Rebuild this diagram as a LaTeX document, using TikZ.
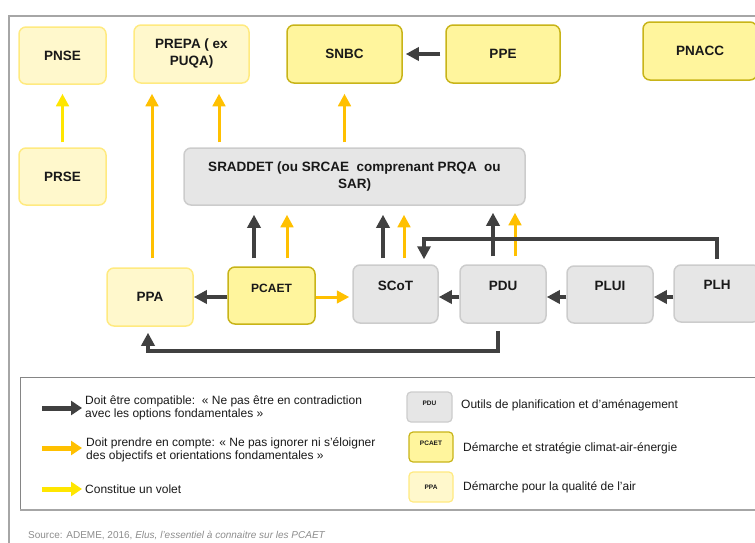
\documentclass[tikz,border=0pt]{standalone}
\usepackage{fontspec}
\setmainfont{Liberation Sans}
\usetikzlibrary{arrows.meta,calc}
\definecolor{lyfill}{HTML}{FFF8CC}
\definecolor{lyedge}{HTML}{FFEA80}
\definecolor{myfill}{HTML}{FFF59D}
\definecolor{myedge}{HTML}{C8B418}
\definecolor{gfill}{HTML}{E6E6E6}
\definecolor{gedge}{HTML}{CCCCCC}
\definecolor{darkc}{HTML}{404040}
\definecolor{orangec}{HTML}{FFC000}
\definecolor{yellowc}{HTML}{FFE600}
\definecolor{framec}{HTML}{A6A6A6}
\definecolor{srcc}{HTML}{8C8C8C}
\begin{document}
\begin{tikzpicture}[x=1pt,y=-1pt,
  boxbase/.style={rounded corners=7pt, line width=1.5pt, inner sep=2pt, align=center,
    font=\fontsize{13.5}{17}\selectfont\bfseries, text=black!90},
  lbox/.style={boxbase, draw=lyedge, fill=lyfill},
  mbox/.style={boxbase, draw=myedge, fill=myfill},
  gbox/.style={boxbase, draw=gedge, fill=gfill},
  sz/.style 2 args={minimum width=#1pt, minimum height=#2pt},
  toplbl/.style={font=\fontsize{13.5}{17}\selectfont\bfseries, text=black!90, inner sep=0pt},
  darr/.style={draw=darkc, line width=4pt, -{Triangle[length=13pt,width=13pt]}},
  oarr/.style={draw=orangec, line width=3pt, -{Triangle[length=12.5pt,width=12.5pt]}},
  yarr/.style={draw=yellowc, line width=3pt, -{Triangle[length=12.5pt,width=12.5pt]}},
  legarr/.style={line width=5pt, -{Triangle[length=11pt,width=14pt]}},
  legt/.style={font=\fontsize{12}{12.8}\selectfont, align=left, inner sep=0pt, text=black!90},
  legbox/.style={rounded corners=4pt, line width=1.2pt, minimum width=44pt, minimum height=30pt, inner sep=0pt},
  tiny/.style={font=\fontsize{6.5}{7}\selectfont\bfseries, inner sep=0pt, text=black!90}
]
\useasboundingbox (0,0) rectangle (755,542);

% outer frame
\draw[framec, line width=1.5pt] (9,545) -- (9,16) -- (760,16);

% top row
\node[lbox, sz={87}{57}] (pnse) at (62.5,55.5) {PNSE};
\node[lbox, sz={115}{58}] (prepa) at (191.5,54) {PREPA ( ex\\PUQA)};
\node[mbox, sz={115}{58}] (snbc) at (344.5,54) {SNBC};
\node[mbox, sz={114}{58}] (ppe) at (503,54) {PPE};
\node[mbox, sz={114}{58}] (pnacc) at (700,51) {PNACC};

% second row
\node[lbox, sz={87}{57}] (prse) at (62.5,176.5) {PRSE};
\node[gbox, sz={341}{57}] (sraddet) at (354.5,176.5) {SRADDET (ou SRCAE\ \ comprenant PRQA\ \ ou\\SAR)};

% third row
\node[lbox, sz={86}{58}] (ppa) at (150,297) {PPA};
\node[mbox, sz={87}{57}, label={[toplbl, font=\fontsize{12}{14}\selectfont\bfseries, yshift=7.5pt]center:PCAET}] (pcaet) at (271.5,295.5) {};
\node[gbox, sz={85}{58}, label={[toplbl, yshift=8pt]center:SCoT}] (scot) at (395.5,294) {};
\node[gbox, sz={86}{58}, label={[toplbl, yshift=8pt]center:PDU}] (pdu) at (503,294) {};
\node[gbox, sz={86}{57}, label={[toplbl, yshift=8.5pt]center:PLUI}] (plui) at (610,294.5) {};
\node[gbox, sz={86}{57}, label={[toplbl, yshift=8.5pt]center:PLH}] (plh) at (717,293.5) {};

% helper coordinates
\coordinate (c1) at ([xshift=2pt]ppa.north);
\coordinate (c2) at ([xshift=27.5pt]prepa.south);
\coordinate (pcd) at ([xshift=-17.5pt]pcaet.north);
\coordinate (pco) at ([xshift=15.5pt]pcaet.north);
\coordinate (scd) at ([xshift=-12.5pt]scot.north);
\coordinate (sco) at ([xshift=8.5pt]scot.north);
\coordinate (pdd) at ([xshift=-10pt]pdu.north);
\coordinate (pdo) at ([xshift=12pt]pdu.north);
\coordinate (s1) at ([xshift=28.5pt]scot.north);
\coordinate (hl) at (0,239);
\coordinate (b1) at ([xshift=-5pt]pdu.south);
\coordinate (b2) at ([xshift=-2pt]ppa.south);
\coordinate (hb) at (0,351);
\coordinate (hr) at (0,297);

% connectors top
\draw[darr, shorten <=5pt, shorten >=3pt] (ppe.west) -- (snbc.east);
\draw[yarr, shorten <=5pt, shorten >=9pt] (prse.north) -- (pnse.south);
\draw[oarr, shorten <=9pt, shorten >=10pt] (c1) -- (c1 |- prepa.south);
\draw[oarr, shorten <=5pt, shorten >=10pt] (c2 |- sraddet.north) -- (c2);
\draw[oarr, shorten <=5pt, shorten >=10pt] (sraddet.north -| snbc.south) -- (snbc.south);

% connectors into SRADDET
\draw[darr, shorten <=8pt, shorten >=9pt] (pcd) -- (pcd |- sraddet.south);
\draw[oarr, shorten <=8pt, shorten >=9pt] (pco) -- (pco |- sraddet.south);
\draw[darr, shorten <=6pt, shorten >=9pt] (scd) -- (scd |- sraddet.south);
\draw[oarr, shorten <=6pt, shorten >=9pt] (sco) -- (sco |- sraddet.south);
\draw[darr, shorten <=8pt, shorten >=7pt] (pdd) -- (pdd |- sraddet.south);
\draw[oarr, shorten <=8pt, shorten >=7pt] (pdo) -- (pdo |- sraddet.south);

% PLH -> SCoT
\draw[darr, shorten <=5pt, shorten >=5pt] (plh.north) -- (plh.north |- hl) -- (s1 |- hl) -- (s1);
% PDU -> PPA
\draw[darr, shorten <=7pt, shorten >=6pt] (b1) -- (b1 |- hb) -- (b2 |- hb) -- (b2);

% horizontal connectors
\draw[darr, shorten >=0pt] (pcaet.west |- hr) -- (ppa.east |- hr);
\draw[oarr, shorten >=3pt] (pcaet.east |- hr) -- (scot.west |- hr);
\draw[darr] (pdu.west |- hr) -- (scot.east |- hr);
\draw[darr] (plui.west |- hr) -- (pdu.east |- hr);
\draw[darr] (plh.west |- hr) -- (plui.east |- hr);

% legend frame
\draw[framec!80!black, line width=0.8pt] (760,377) -- (20,377) -- (20,510) -- (760,510);
\draw[framec, line width=1.5pt] (20,510) -- (760,510);

% legend arrows and texts
\node[legt, anchor=west] (l1) at (85,408) {Doit être compatible:\ \ «~Ne pas être en contradiction\\avec les options fondamentales~»};
\node[legt, anchor=west] (l2) at (86,450) {Doit prendre en compte: «~Ne pas ignorer ni s’éloigner\\des objectifs et orientations fondamentales~»};
\node[legt, anchor=west] (l3) at (85,489) {Constitue un volet};
\coordinate (la1) at (42,408);
\coordinate (la2) at (42,448);
\coordinate (la3) at (42,489);
\draw[legarr, darkc, shorten >=3pt] (la1) -- (la1 -| l1.west);
\draw[legarr, orangec, shorten >=4pt] (la2) -- (la2 -| l2.west);
\draw[legarr, yellowc, shorten >=3pt] (la3) -- (la3 -| l3.west);

% legend boxes
\node[legbox, draw=gedge, fill=gfill, minimum width=45pt, label={[tiny, yshift=4pt]center:PDU}] (lg1) at (429.5,407) {};
\node[legbox, draw=myedge, fill=myfill, label={[tiny, yshift=4pt]center:PCAET}] (lg2) at (431,447) {};
\node[legbox, draw=lyedge, fill=lyfill] (lg3) at (431,487) {};
\node[tiny] (lg3t) at (lg3.center) {PPA};
\node[legt, anchor=west] (lt1) at (461,405) {Outils de planification et d’aménagement};
\node[legt, anchor=west] (lt2) at (463,448) {Démarche et stratégie climat-air-énergie};
\node[legt, anchor=west] (lt3) at (463,487) {Démarche pour la qualité de l’air};

% source
\node[anchor=west, inner sep=0pt, text=srcc, font=\fontsize{10}{11}\selectfont] (src) at (28,535) {Source: ADEME, 2016, \textit{Elus, l’essentiel à connaitre sur les PCAET}};
\end{tikzpicture}
\end{document}
